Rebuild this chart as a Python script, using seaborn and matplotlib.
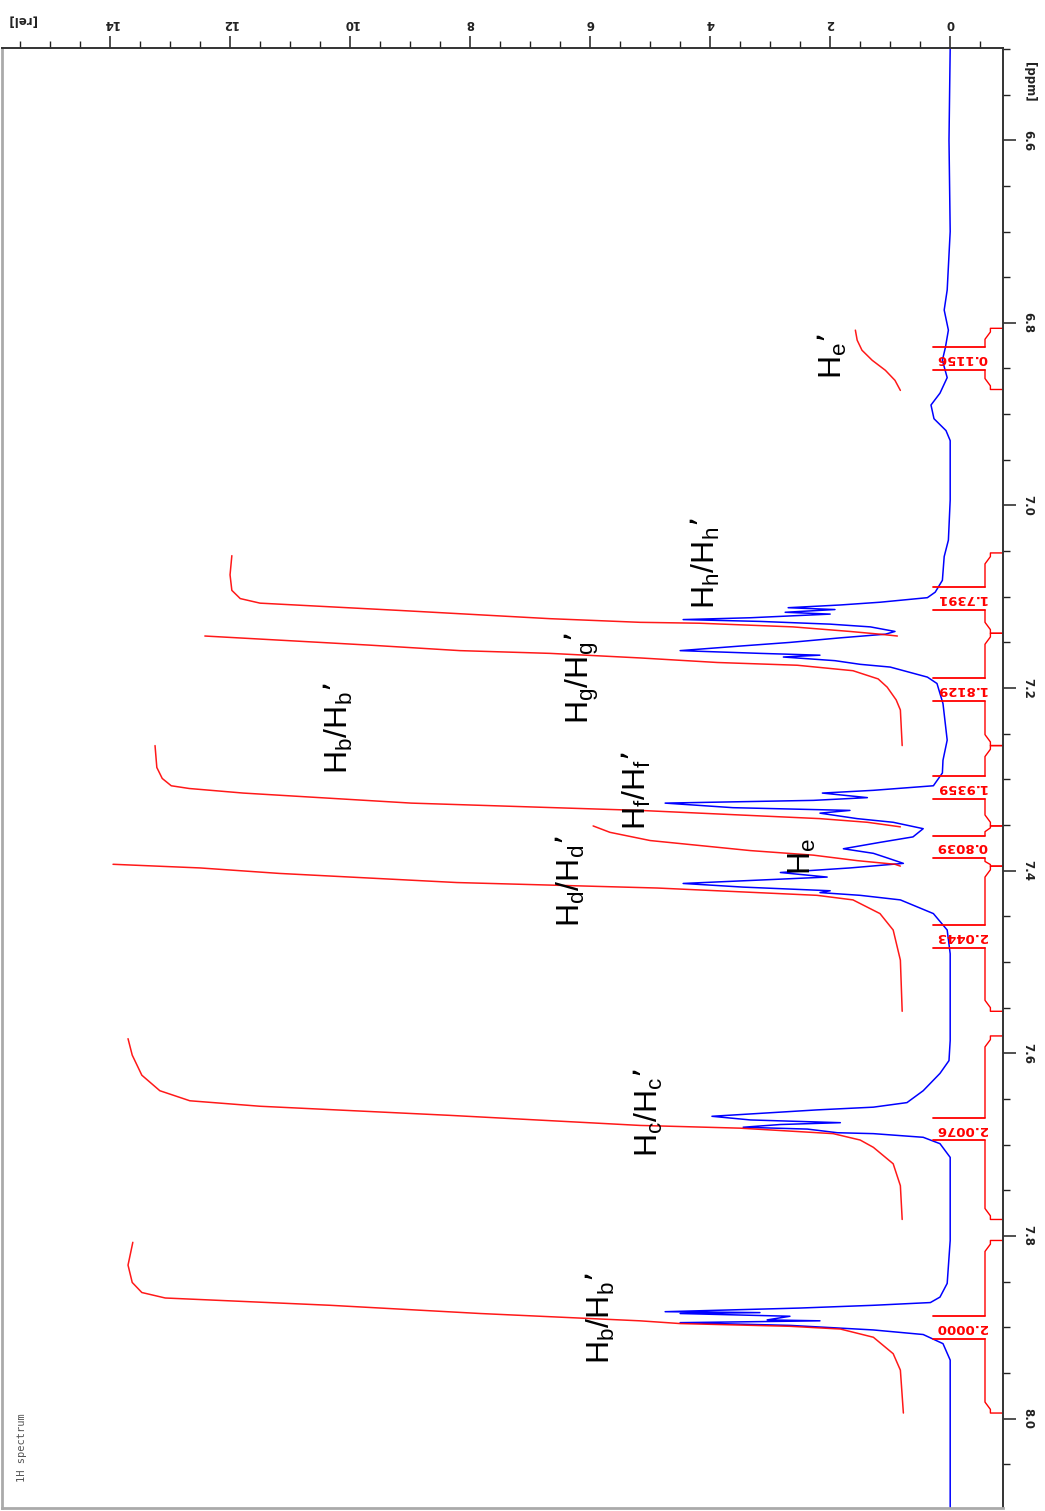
import numpy as np
import pandas as pd
import matplotlib
matplotlib.use("Agg")
import matplotlib.pyplot as plt
import seaborn as sns
from matplotlib.ticker import MultipleLocator, FixedLocator

# ---------------- data ----------------
# 1H spectrum trace (chemical shift in ppm, relative intensity)
spec_ppm = [6.499, 6.600, 6.700, 6.764, 6.786, 6.808, 6.827, 6.841, 6.860, 6.877,
            6.890, 6.905, 6.918, 6.929, 6.994, 7.038, 7.056, 7.082, 7.095, 7.101,
            7.106, 7.109, 7.112, 7.114, 7.117, 7.119, 7.123, 7.125, 7.127, 7.130,
            7.133, 7.138, 7.141, 7.145, 7.150, 7.154, 7.159, 7.162, 7.164, 7.166,
            7.170, 7.174, 7.177, 7.188, 7.195, 7.217, 7.257, 7.279, 7.293, 7.307,
            7.312, 7.315, 7.320, 7.323, 7.326, 7.331, 7.334, 7.337, 7.343, 7.347,
            7.354, 7.363, 7.369, 7.376, 7.381, 7.386, 7.392, 7.397, 7.402, 7.407,
            7.414, 7.418, 7.422, 7.424, 7.427, 7.432, 7.447, 7.465, 7.491, 7.586,
            7.608, 7.622, 7.641, 7.654, 7.659, 7.662, 7.669, 7.673, 7.676, 7.678,
            7.681, 7.683, 7.687, 7.688, 7.692, 7.699, 7.714, 7.805, 7.852, 7.867,
            7.873, 7.876, 7.879, 7.883, 7.884, 7.885, 7.888, 7.892, 7.893, 7.895,
            7.898, 7.901, 7.903, 7.908, 7.918, 7.936, 8.098]
spec_int = [0.00, 0.02, 0.00, 0.05, 0.10, 0.03, 0.08, 0.13, 0.05, 0.17,
            0.32, 0.27, 0.07, 0.00, 0.00, 0.03, 0.10, 0.13, 0.25, 0.38,
            1.17, 1.83, 2.70, 1.92, 2.75, 2.00, 3.33, 4.45, 3.17, 2.00,
            1.33, 0.92, 1.08, 1.83, 2.67, 3.50, 4.50, 3.17, 2.17, 2.78,
            1.92, 1.50, 1.00, 0.38, 0.22, 0.12, 0.05, 0.12, 0.13, 0.28,
            1.28, 2.13, 1.38, 2.28, 4.75, 3.62, 1.67, 2.17, 1.55, 0.95,
            0.45, 0.62, 1.17, 1.78, 1.28, 1.05, 0.78, 1.67, 2.83, 2.05,
            4.45, 3.45, 2.00, 2.17, 1.50, 0.83, 0.28, 0.05, 0.00, 0.00,
            0.02, 0.17, 0.45, 0.72, 1.28, 2.22, 3.97, 3.33, 1.83, 2.83,
            3.45, 2.38, 1.88, 1.28, 0.45, 0.17, 0.00, 0.00, 0.05, 0.17,
            0.33, 1.28, 2.50, 4.75, 3.17, 4.50, 2.67, 3.05, 2.17, 4.50,
            2.67, 1.83, 1.28, 0.45, 0.12, 0.00, 0.00]

# integral curves (ppm, displayed integral level)
int_he2_ppm = [6.808, 6.819, 6.830, 6.841, 6.852, 6.863, 6.874]
int_he2_val = [1.58, 1.55, 1.47, 1.30, 1.08, 0.92, 0.83]
int_hh_ppm = [7.055, 7.076, 7.093, 7.102, 7.107, 7.115, 7.124, 7.128, 7.129, 7.133, 7.138, 7.141, 7.143]
int_hh_val = [11.97, 12.00, 11.97, 11.83, 11.50, 9.17, 6.67, 5.17, 4.17, 2.62, 1.67, 1.17, 0.88]
int_hg_ppm = [7.143, 7.153, 7.159, 7.162, 7.167, 7.172, 7.175, 7.181, 7.190, 7.199, 7.213, 7.224, 7.263]
int_hg_val = [12.42, 9.67, 8.17, 6.67, 5.17, 3.88, 2.55, 1.62, 1.20, 1.05, 0.90, 0.83, 0.80]
int_hf_ppm = [7.263, 7.287, 7.299, 7.307, 7.310, 7.315, 7.326, 7.334, 7.343, 7.347, 7.352]
int_hf_val = [13.25, 13.22, 13.13, 12.98, 12.68, 11.78, 8.98, 5.17, 2.17, 1.38, 0.83]
int_he_ppm = [7.351, 7.358, 7.367, 7.378, 7.383, 7.389, 7.393, 7.395]
int_he_val = [5.95, 5.67, 5.00, 3.33, 2.28, 1.55, 0.92, 0.83]
int_hd_ppm = [7.393, 7.397, 7.403, 7.413, 7.419, 7.427, 7.432, 7.447, 7.465, 7.498, 7.554]
int_hd_val = [13.95, 12.50, 11.18, 8.22, 4.88, 2.22, 1.62, 1.17, 0.95, 0.83, 0.80]
int_hc_ppm = [7.584, 7.602, 7.624, 7.641, 7.652, 7.658, 7.668, 7.679, 7.682, 7.688, 7.695, 7.703, 7.721, 7.745, 7.782]
int_hc_val = [13.70, 13.63, 13.47, 13.17, 12.67, 11.50, 8.33, 5.17, 3.50, 1.95, 1.50, 1.28, 0.95, 0.83, 0.80]
int_hb_ppm = [7.807, 7.832, 7.851, 7.862, 7.868, 7.876, 7.885, 7.893, 7.896, 7.899, 7.902, 7.911, 7.929, 7.947, 7.994]
int_hb_val = [13.62, 13.70, 13.63, 13.47, 13.08, 10.33, 7.83, 5.17, 4.50, 2.67, 1.83, 1.28, 0.95, 0.83, 0.78]

# integration regions and their values
region_start = [6.806, 7.052, 7.140, 7.263, 7.351, 7.395, 7.581, 7.805]
region_end = [6.873, 7.140, 7.263, 7.351, 7.395, 7.554, 7.782, 7.994]
region_label_ppm = [6.839, 7.102, 7.202, 7.309, 7.374, 7.472, 7.683, 7.900]
region_values = ["0.1156", "1.7391", "1.8129", "1.9359", "0.8039", "2.0443", "2.0076", "2.0000"]

# peak assignments
peak_labels = ["H$_e$’", "H$_h$/H$_h$’", "H$_g$/H$_g$’", "H$_b$/H$_b$’", "H$_f$/H$_f$’",
               "H$_d$/H$_d$’", "H$_e$", "H$_c$/H$_c$’", "H$_b$/H$_b$’"]
peak_label_ppm = [6.836, 7.063, 7.189, 7.244, 7.312, 7.411, 7.385, 7.665, 7.890]
peak_label_int = [1.97, 4.07, 6.13, 10.20, 5.22, 6.33, 2.47, 5.03, 5.83]

# axes ticks
intensity_ticks = [0, 2, 4, 6, 8, 10, 12, 14]
ppm_ticks = [6.6, 6.8, 7.0, 7.2, 7.4, 7.6, 7.8, 8.0]

# ---------------- drawing ----------------
sns.set_style("white")
plt.rcParams["font.family"] = ["DejaVu Sans"]
plt.rcParams["mathtext.default"] = "regular"

W, H = 1045, 1511
fig = plt.figure(figsize=(W / 100, H / 100), dpi=100)
ax = fig.add_axes([2 / W, 3 / H, 1001 / W, 1460 / H])

spec = pd.DataFrame({"ppm": spec_ppm, "intensity": spec_int})
sns.lineplot(data=spec, x="intensity", y="ppm", sort=False, estimator=None,
             orient="y", color=(0.0, 0.0, 1.0), lw=1.1, ax=ax)

integrals = [(int_he2_ppm, int_he2_val), (int_hh_ppm, int_hh_val), (int_hg_ppm, int_hg_val),
             (int_hf_ppm, int_hf_val), (int_he_ppm, int_he_val), (int_hd_ppm, int_hd_val),
             (int_hc_ppm, int_hc_val), (int_hb_ppm, int_hb_val)]
for p, v in integrals:
    sns.lineplot(x=v, y=p, sort=False, estimator=None, orient="y",
                 color=(1.0, 0.0, 0.0), alpha=0.9, lw=1.1, ax=ax)

# integral brackets and values
red = (1.0, 0.0, 0.0)
x_frame, x_out, x_in, x_lab = -0.88, -0.67, -0.58, 0.28
half = 0.0125
for s, e, lp, val in zip(region_start, region_end, region_label_ppm, region_values):
    lt, lb = lp - half, lp + half
    j2 = min(0.012, (lt - s) * 0.6)
    j3 = min(0.012, (e - lb) * 0.6)
    ax.plot([x_frame, x_out, x_out, x_in, x_in], [s, s, s + j2 / 3, s + j2, lt],
            color=red, lw=1.0)
    ax.plot([x_in, x_in, x_out, x_out, x_frame], [lb, e - j3, e - j3 / 3, e, e],
            color=red, lw=1.0)
    ax.plot([x_lab, x_in], [lt, lt], color=red, lw=1.3)
    ax.plot([x_lab, x_in], [lb, lb], color=red, lw=1.3)
    ax.text(-0.19, lp, val, rotation=180, ha="center", va="center",
            color=red, fontsize=9.5, fontweight="bold")

# peak assignment labels
for lab, p, v in zip(peak_labels, peak_label_ppm, peak_label_int):
    ax.text(v, p, lab, rotation=90, ha="center", va="center",
            fontsize=23, family=["Liberation Sans", "DejaVu Sans"], color="black")

ax.set_xlim(15.8, -0.88)
ax.set_ylim(8.098, 6.499)
ax.set_xlabel("")
ax.set_ylabel("")

ax.xaxis.tick_top()
ax.xaxis.set_major_locator(FixedLocator(intensity_ticks))
ax.set_xticklabels([str(t) for t in intensity_ticks], rotation=180,
                   fontsize=8.5, fontweight="bold")
ax.xaxis.set_minor_locator(MultipleLocator(0.5))
ax.yaxis.tick_right()
ax.yaxis.set_major_locator(FixedLocator(ppm_ticks))
ax.set_yticklabels([f"{t:.1f}" for t in ppm_ticks], rotation=270, va="center",
                   fontsize=8.5, fontweight="bold")
ax.yaxis.set_minor_locator(MultipleLocator(0.05))

ax.tick_params(axis="x", which="major", direction="out", length=9, width=1.1,
               top=True, bottom=False, labeltop=True, labelbottom=False, pad=4,
               colors="#222222")
ax.tick_params(axis="x", which="minor", direction="out", length=5, width=1.0,
               top=True, bottom=False, colors="#222222")
ax.tick_params(axis="y", which="major", direction="out", length=9, width=1.1,
               right=True, left=False, labelright=True, labelleft=False, pad=4,
               colors="#222222")
ax.tick_params(axis="y", which="minor", direction="out", length=5, width=1.0,
               right=True, left=False, colors="#222222")

for side in ("top", "right"):
    ax.spines[side].set_color("#333333")
    ax.spines[side].set_linewidth(1.4)
for side in ("left", "bottom"):
    ax.spines[side].set_color("#aaaaaa")
    ax.spines[side].set_linewidth(2.0)

fig.text(22 / W, 1 - 20 / H, "[rel]", rotation=180, ha="center", va="center",
         fontsize=8.5, fontweight="bold", color="#222222")
fig.text(1030 / W, 1 - 82 / H, "[ppm]", rotation=270, ha="center", va="center",
         fontsize=8.5, fontweight="bold", color="#222222")
fig.text(22 / W, 1 - 1482 / H, "1H spectrum", rotation=90, ha="center", va="bottom",
         fontsize=7.5, family="DejaVu Sans Mono", color="#555555")

fig.savefig("out.png", dpi=100)
